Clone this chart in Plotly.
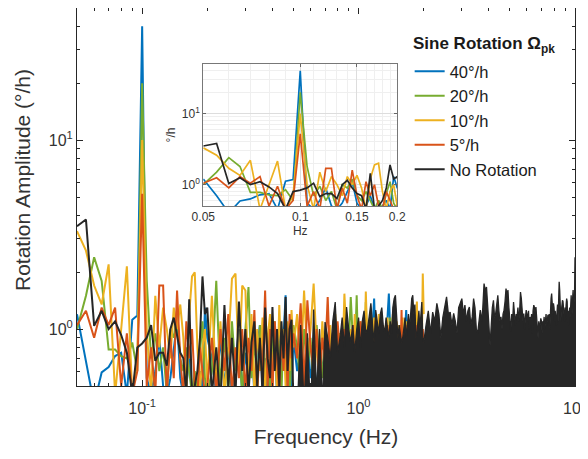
import numpy as np
import plotly.graph_objects as go

# ---------------- frequency grids (Hz) ----------------
freq_low = np.round(np.arange(0.050, 0.2001, 0.005), 3)   # 31 pts
freq_mid = np.round(np.arange(0.21, 0.5001, 0.01), 2)     # 30 pts
freq_high = np.round(np.arange(0.52, 2.0001, 0.02), 2)    # 75 pts
freq_top = np.round(np.arange(2.05, 10.0001, 0.05), 2)    # 160 pts (No Rotation only)

series_names = ["40°/h", "20°/h", "10°/h", "5°/h", "No Rotation"]
series_colors = ["#0072BD", "#77AC30", "#EDB120", "#D95319", "#262626"]

# ---------------- amplitudes (°/h) ----------------
blue_low = [1.2, 0.7, 0.4, 0.59, 0.63, 0.72, 0.75, 0.45, 1.12, 1.18, 40,
            0.55, 0.45, 0.6, 0.9, 0.5, 0.45, 0.55, 0.8, 1.1, 0.55,
            0.45, 0.5, 0.7, 0.45, 0.45, 0.5, 0.6, 0.45, 1.3, 0.9]
blue_mid = [0.7, 0.45, 0.9, 0.5, 0.8, 0.45, 0.7, 1.0, 0.45, 0.75,
            0.55, 0.9, 0.45, 0.8, 1.05, 0.5, 0.7, 0.45, 0.95, 0.6,
            0.8, 0.45, 1.0, 0.6, 0.9, 1.51, 0.5, 0.8, 0.45, 0.9]
blue_high = [0.6, 0.8, 0.45, 0.9, 0.55, 0.7, 0.45, 0.85, 0.6, 0.75,
             0.5, 0.9, 0.6, 0.45, 0.8, 0.95, 0.55, 0.7, 0.45, 0.85,
             0.6, 0.75, 0.5, 0.9, 0.65, 0.45, 0.8, 0.6, 0.95, 0.7,
             0.5, 0.85, 1.0, 1.45, 0.8, 0.6, 0.9, 0.45, 0.75, 0.95,
             0.6, 0.85, 1.1, 1.54, 1.0, 0.7, 0.5, 0.9, 0.65, 0.8,
             0.45, 0.85, 0.7, 0.95, 0.6, 0.8, 1.0, 1.26, 0.9, 0.55,
             0.8, 0.65, 0.95, 0.5, 0.85, 0.7, 1.0, 0.6, 0.9, 0.75,
             0.5, 0.85, 0.7, 0.95, 0.6]

green_low = [1.0, 1.5, 2.4, 1.8, 0.78, 0.78, 0.72, 0.7, 0.85, 0.6, 20,
             1.8, 0.7, 0.95, 0.6, 0.8, 0.45, 1.0, 0.9, 1.2, 0.7,
             0.6, 0.8, 0.6, 0.45, 0.6, 0.45, 0.75, 1.1, 0.55, 0.45]
green_mid = [0.6, 1.8, 0.5, 0.9, 0.45, 1.1, 0.6, 0.8, 0.45, 1.0,
             1.67, 0.55, 0.9, 0.45, 1.05, 0.7, 0.5, 0.95, 0.45, 0.8,
             1.1, 0.5, 0.85, 0.45, 1.0, 0.6, 0.9, 0.45, 0.75, 1.05]
green_high = [0.8, 0.5, 1.0, 0.6, 0.9, 0.45, 1.05, 0.7, 0.55, 0.95,
              0.6, 0.85, 0.45, 1.0, 0.7, 0.9, 0.5, 1.1, 0.65, 0.8,
              1.48, 0.9, 0.7, 1.51, 0.6, 0.85, 1.0, 0.5, 1.39, 0.75,
              0.9, 0.55, 1.05, 0.7, 0.45, 0.95, 0.8, 1.1, 0.6, 0.85,
              0.7, 1.0, 0.5, 0.9, 1.15, 0.6, 0.85, 0.45, 1.0, 0.75,
              0.9, 0.6, 1.05, 0.7, 0.5, 0.95, 0.8, 0.6, 1.1, 0.7,
              0.55, 0.9, 0.75, 1.05, 0.6, 0.85, 0.5, 1.0, 0.7, 0.9,
              0.6, 1.0, 0.75, 0.55, 0.85]

yellow_low = [3.3, 2.6, 1.7, 1.35, 2.2, 0.45, 1.0, 2.15, 0.45, 0.7, 10,
              1.0, 0.45, 1.5, 0.8, 1.3, 1.0, 0.7, 1.3, 1.0, 1.35,
              0.9, 0.45, 1.2, 1.9, 2.0, 0.8, 0.45, 0.8, 1.0, 0.5]
yellow_mid = [1.5, 0.5, 1.1, 0.45, 0.8, 1.85, 1.97, 0.6, 1.7, 1.6,
              0.5, 1.2, 0.45, 1.0, 0.6, 1.15, 0.45, 0.9, 1.2, 0.5,
              0.95, 0.45, 1.34, 0.7, 1.0, 0.5, 1.1, 0.6, 1.26, 0.8]
yellow_high = [1.2, 0.6, 1.6, 0.7, 1.0, 1.74, 0.8, 0.5, 1.1, 0.65,
               0.9, 1.05, 0.5, 1.2, 0.7, 0.95, 0.6, 1.54, 0.8, 0.5,
               1.0, 0.65, 1.2, 0.45, 0.9, 1.1, 0.7, 0.55, 1.58, 0.8,
               0.6, 1.0, 0.75, 1.15, 0.5, 0.9, 1.2, 0.65, 0.85, 1.05,
               0.55, 0.95, 1.15, 0.7, 1.0, 0.6, 1.2, 0.85, 0.5, 1.1,
               0.75, 1.05, 0.6, 0.9, 1.15, 0.5, 0.95, 0.7, 1.1, 0.8,
               0.6, 1.0, 0.85, 1.2, 0.65, 0.95, 1.1, 1.4, 0.7, 1.0,
               0.6, 1.15, 0.8, 1.97, 1.2]

red_low = [1.05, 1.25, 0.9, 1.3, 1.05, 1.3, 0.5, 0.95, 0.45, 0.6, 5.2,
           0.5, 0.8, 0.45, 1.7, 1.7, 0.45, 0.9, 0.55, 1.6, 0.7,
           0.45, 1.1, 0.7, 1.0, 0.5, 0.45, 0.8, 0.6, 0.45, 0.5]
red_mid = [0.9, 0.45, 1.0, 0.6, 1.2, 0.45, 0.8, 0.55, 1.0, 0.45,
           0.9, 0.6, 1.26, 0.45, 0.85, 0.6, 1.6, 0.5, 1.0, 0.45,
           1.1, 0.7, 0.45, 0.95, 0.6, 1.1, 0.45, 1.2, 0.7, 0.95]
red_high = [0.7, 1.37, 0.5, 1.42, 0.8, 0.6, 1.0, 0.45, 0.9, 0.7,
            1.48, 0.6, 0.95, 0.5, 1.1, 0.75, 0.55, 1.0, 0.65, 0.9,
            0.5, 1.05, 0.7, 0.85, 0.45, 1.1, 0.8, 0.6, 0.95, 0.7,
            1.0, 0.55, 0.85, 0.65, 1.1, 0.5, 0.9, 0.75, 1.0, 0.6,
            0.85, 0.5, 1.05, 0.7, 0.9, 0.6, 1.1, 0.55, 0.95, 0.75,
            0.6, 1.0, 0.7, 1.26, 0.5, 0.9, 0.8, 0.55, 1.05, 0.65,
            0.9, 0.5, 1.0, 0.7, 0.85, 0.6, 1.05, 0.75, 0.5, 0.95,
            0.7, 0.9, 0.55, 1.0, 0.8]

black_low = [3.5, 3.8, 1.04, 1.25, 1.0, 1.1, 0.93, 0.75, 0.45, 0.8, 0.84,
             0.9, 1.05, 0.68, 0.75, 0.75, 0.64, 1.0, 1.15, 0.9, 0.75,
             0.7, 0.45, 1.44, 0.45, 0.5, 0.6, 0.9, 1.9, 1.2, 1.3]
black_mid = [0.45, 0.8, 0.4, 1.34, 0.5, 0.9, 0.45, 1.4, 0.6, 1.0,
             0.45, 0.85, 1.1, 0.5, 0.9, 0.45, 1.3, 0.7, 0.55, 1.31,
             0.6, 1.0, 0.5, 1.1, 0.7, 1.48, 0.6, 1.0, 1.12, 0.4]
black_high = [0.35, 1.05, 0.4, 0.95, 0.35, 1.27, 0.45, 1.0, 0.4, 1.09,
              0.9, 0.7, 1.1, 1.39, 0.75, 0.9, 1.15, 0.8, 1.31, 1.0,
              0.85, 1.05, 0.75, 0.99, 1.15, 0.8, 1.1, 1.25, 0.95, 1.0,
              1.15, 1.37, 1.05, 0.85, 1.26, 1.1, 0.95, 1.2, 1.3, 1.05,
              0.95, 1.15, 1.0, 0.9, 1.1, 0.95, 1.3, 1.45, 1.51, 1.2,
              0.9, 1.05, 0.95, 0.85, 0.9, 1.0, 1.15, 0.9, 1.05, 1.2,
              1.0, 1.3, 1.45, 1.51, 1.2, 1.35, 0.9, 0.95, 1.1, 1.25,
              1.0, 1.2, 1.39, 0.9, 0.85]
black_top = [1.05, 1.25, 0.95, 1.23, 1.1, 1.37, 1.2, 0.9, 1.15, 1.3,
             1.48, 1.2, 1.23, 1.05, 1.21, 1.1, 0.95, 1.3, 1.37, 1.45,
             1.2, 1.34, 1.1, 1.25, 1.31, 1.05, 1.16, 1.45, 1.3, 1.0,
             0.95, 1.15, 1.26, 1.1, 1.3, 1.74, 1.6, 1.67, 1.2, 1.05,
             0.82, 1.1, 1.3, 1.42, 1.15, 1.21, 1.35, 1.51, 1.25, 1.1,
             1.16, 1.0, 1.2, 1.26, 1.4, 1.64, 1.5, 1.61, 1.3, 1.1,
             0.97, 1.2, 1.1, 1.39, 1.25, 1.05, 1.2, 1.16, 1.3, 1.1,
             1.25, 1.57, 1.45, 1.2, 1.1, 1.21, 1.0, 1.15, 1.26, 1.2,
             1.1, 1.25, 1.0, 1.16, 1.05, 1.2, 0.95, 1.25, 1.34, 1.3,
             1.2, 1.31, 1.15, 1.03, 0.9, 1.1, 1.0, 1.05, 1.14, 1.1,
             0.95, 1.1, 1.05, 1.16, 1.0, 1.1, 1.2, 1.05, 1.15, 1.19,
             1.1, 1.2, 1.0, 1.3, 1.45, 1.54, 1.3, 1.2, 1.37, 1.3,
             1.1, 1.25, 1.15, 1.05, 1.2, 1.35, 1.1, 1.5, 1.78, 1.6,
             1.3, 1.1, 1.25, 1.35, 1.42, 1.4, 1.2, 1.26, 1.1, 1.3,
             1.2, 1.35, 1.45, 1.4, 1.1, 1.25, 1.05, 1.2, 1.3, 1.15,
             1.4, 1.51, 1.3, 1.2, 1.45, 1.61, 1.3, 1.4, 1.5, 2.4]

# tick labels and texts
x_tick_vals = [0.1, 1, 10]
x_tick_text = ["10<sup>-1</sup>", "10<sup>0</sup>", "10<sup>1</sup>"]
y_tick_vals = [1, 10]
y_tick_text = ["10<sup>0</sup>", "10<sup>1</sup>"]
inset_x_tick_vals = [0.05, 0.1, 0.15, 0.2]
inset_x_tick_text = ["0.05", "0.1", "0.15", "0.2"]
legend_title = "<b>Sine Rotation Ω<sub>pk</sub></b>"
x_title = "Frequency (Hz)"
y_title = "Rotation Amplitude (°/h)"

# ---------------- assemble ----------------
f_col = np.concatenate([freq_low, freq_mid, freq_high])
f_all = np.concatenate([freq_low, freq_mid, freq_high, freq_top])
colored = [
    np.array(blue_low + blue_mid + blue_high),
    np.array(green_low + green_mid + green_high),
    np.array(yellow_low + yellow_mid + yellow_high),
    np.array(red_low + red_mid + red_high),
]
black_all = np.array(black_low + black_mid + black_high + black_top)
split = 0.50
mask_line = f_all <= split
mask_fill = f_all >= split

LW = 2.0
fig = go.Figure()
for name, col, vals in zip(series_names[:4], series_colors[:4], colored):
    fig.add_trace(go.Scatter(x=f_col, y=vals, mode="lines", name=name,
                             line=dict(color=col, width=LW),
                             xaxis="x", yaxis="y"))
fig.add_trace(go.Scatter(x=f_all[mask_line], y=black_all[mask_line], mode="lines",
                         name=series_names[4],
                         line=dict(color=series_colors[4], width=LW),
                         xaxis="x", yaxis="y"))
fig.add_trace(go.Scatter(x=f_all[mask_fill], y=black_all[mask_fill], mode="lines",
                         name=series_names[4], showlegend=False,
                         line=dict(color=series_colors[4], width=1.3),
                         fill="tozeroy", fillcolor=series_colors[4],
                         xaxis="x", yaxis="y"))

# inset
m_in = f_all <= 0.25
m_in_c = f_col <= 0.25
for name, col, vals in zip(series_names[:4], series_colors[:4], colored):
    fig.add_trace(go.Scatter(x=f_col[m_in_c], y=vals[m_in_c], mode="lines", showlegend=False,
                             line=dict(color=col, width=1.7), xaxis="x2", yaxis="y2"))
fig.add_trace(go.Scatter(x=f_all[m_in], y=black_all[m_in], mode="lines", showlegend=False,
                         line=dict(color=series_colors[4], width=1.7), xaxis="x2", yaxis="y2"))

axis_col = "#262626"
txt_col = "#333333"
font_fam = "Liberation Sans, Arial, Helvetica, sans-serif"
x_minor = [0.06, 0.07, 0.08, 0.09, 0.2, 0.3, 0.4, 0.5, 0.6, 0.7, 0.8, 0.9,
           2, 3, 4, 5, 6, 7, 8, 9]
y_minor = [0.6, 0.7, 0.8, 0.9, 2, 3, 4, 5, 6, 7, 8, 9, 20, 30, 40]
ix_minor = [0.06, 0.07, 0.08, 0.09, 0.11, 0.12, 0.13, 0.14, 0.16, 0.17, 0.18, 0.19]

fig.update_layout(
    width=588, height=459,
    margin=dict(l=69, r=21, t=0, b=81),
    paper_bgcolor="white", plot_bgcolor="white",
    font=dict(family=font_fam, color=axis_col),
    legend=dict(x=0.668, y=0.878, xanchor="left", yanchor="top",
                bgcolor="rgba(255,255,255,0)",
                font=dict(size=16.5, color="#1a1a1a"),
                traceorder="normal", itemwidth=30),
    annotations=[
        dict(text=legend_title, xref="paper", yref="paper", x=0.6707, y=0.902,
             xanchor="left", yanchor="middle", showarrow=False,
             font=dict(size=17, color="#1a1a1a")),
        dict(text=y_title, xref="paper", yref="paper", x=-0.1084, y=0.545,
             xanchor="center", yanchor="middle", textangle=-90, showarrow=False,
             font=dict(size=21, color=txt_col)),
    ],
    xaxis=dict(type="log", range=[np.log10(0.05), 1], domain=[0, 1], anchor="y",
               automargin=False, ticklabelstandoff=8,
               tickmode="array", tickvals=x_tick_vals, ticktext=x_tick_text,
               ticks="inside", ticklen=6, tickcolor=axis_col, mirror="ticks",
               showline=True, linecolor=axis_col, linewidth=1,
               showgrid=False, zeroline=False,
               tickfont=dict(size=16, color=txt_col),
               minor=dict(tickmode="array", tickvals=x_minor, ticks="inside",
                          ticklen=3, tickcolor=axis_col, showgrid=False),
               title=dict(text=x_title, font=dict(size=21, color=txt_col), standoff=13)),
    yaxis=dict(type="log", range=[np.log10(0.5), np.log10(50)], domain=[0, 1], anchor="x",
               automargin=False,
               tickmode="array", tickvals=y_tick_vals, ticktext=y_tick_text,
               ticks="inside", ticklen=6, tickcolor=axis_col, mirror="ticks",
               showline=True, linecolor=axis_col, linewidth=1,
               showgrid=False, zeroline=False,
               tickfont=dict(size=16, color=txt_col),
               minor=dict(tickmode="array", tickvals=y_minor, ticks="inside",
                          ticklen=3, tickcolor=axis_col, showgrid=False)),
    xaxis2=dict(type="log", range=[np.log10(0.05), np.log10(0.2)],
                domain=[0.2536, 0.643], anchor="y2", automargin=False,
                tickmode="array", tickvals=inset_x_tick_vals, ticktext=inset_x_tick_text,
                ticks="inside", ticklen=3, tickcolor="#666666", mirror="ticks",
                showline=True, linecolor="#777777", linewidth=1,
                showgrid=True, gridcolor="#dddddd", gridwidth=0.8, zeroline=False,
                tickfont=dict(size=12, color=txt_col),
                minor=dict(tickmode="array", tickvals=ix_minor, showgrid=True,
                           gridcolor="#efefef", gridwidth=0.6),
                title=dict(text="Hz", font=dict(size=12, color=txt_col), standoff=3)),
    yaxis2=dict(type="log", range=[np.log10(0.5), np.log10(50)],
                domain=[0.476, 0.852], anchor="x2", automargin=False,
                tickmode="array", tickvals=y_tick_vals, ticktext=y_tick_text,
                ticks="inside", ticklen=3, tickcolor="#666666", mirror="ticks",
                showline=True, linecolor="#777777", linewidth=1,
                showgrid=True, gridcolor="#dddddd", gridwidth=0.8, zeroline=False,
                tickfont=dict(size=12, color=txt_col),
                minor=dict(tickmode="array", tickvals=y_minor, showgrid=True,
                           gridcolor="#efefef", gridwidth=0.6),
                title=dict(text="°/h", font=dict(size=12, color=txt_col), standoff=3)),
)

fig.write_html("out.html")
